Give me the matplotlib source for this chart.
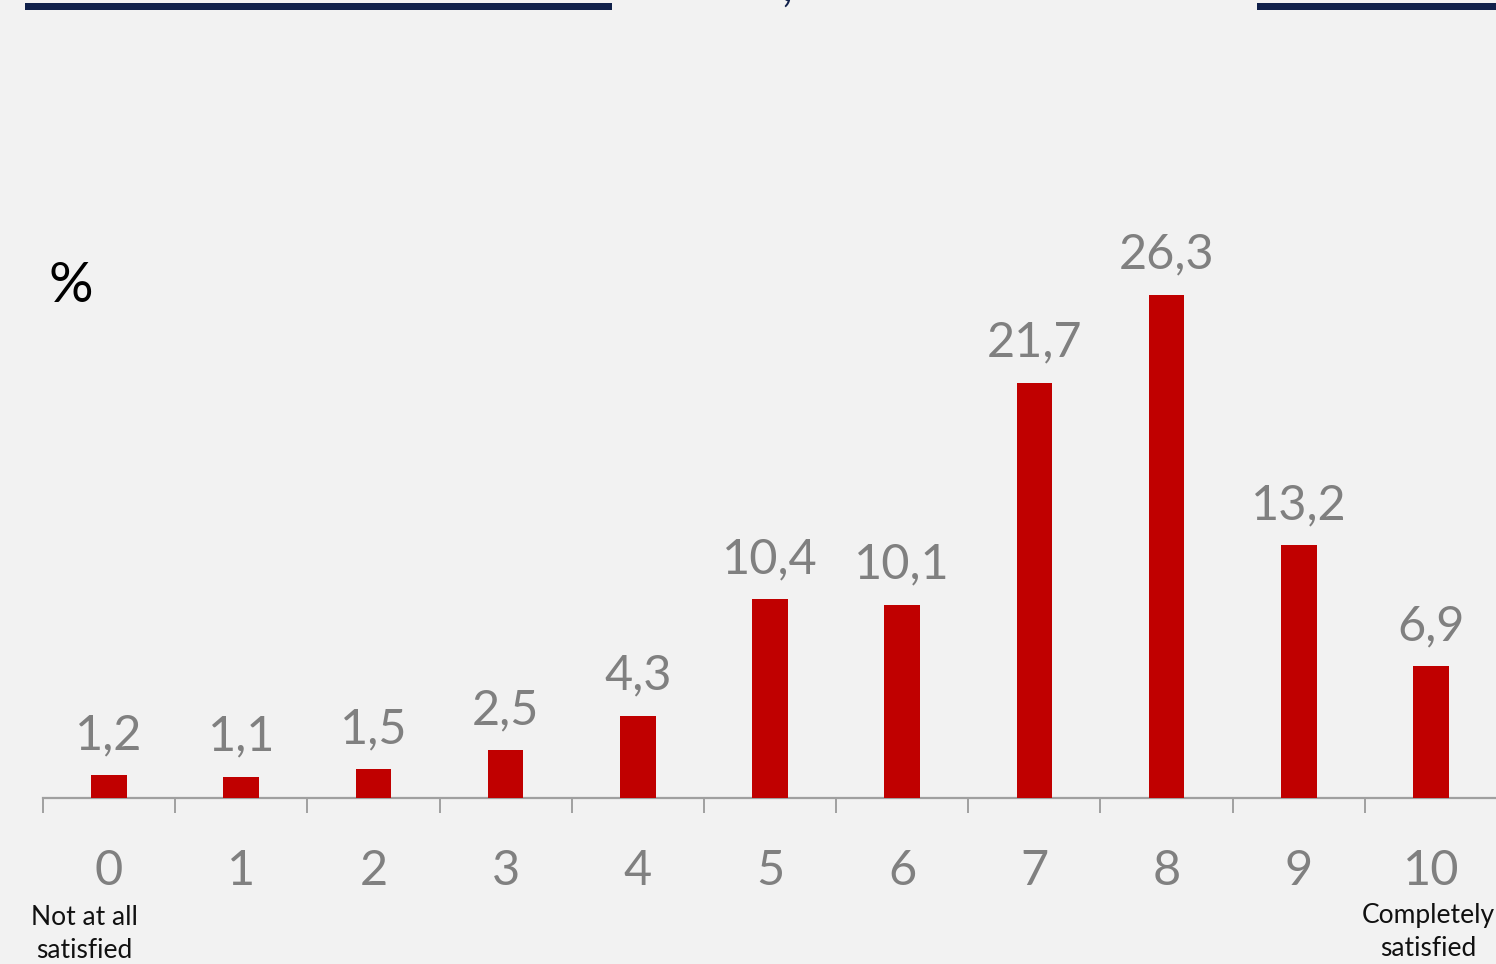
import numpy as np
import matplotlib
matplotlib.use("Agg")
import matplotlib.pyplot as plt
from matplotlib.patches import Rectangle

plt.rcParams['font.family'] = ['Lato', 'DejaVu Sans']

scores = ["0", "1", "2", "3", "4", "5", "6", "7", "8", "9", "10"]
shares = [1.2, 1.1, 1.5, 2.5, 4.3, 10.4, 10.1, 21.7, 26.3, 13.2, 6.9]
low_label = "Not at all\nsatisfied"
high_label = "Completely\nsatisfied"

bg = '#f2f2f2'
bar_col = '#c00000'
grey = '#808080'
navy = '#10204a'

W, H = 1496, 964
fig = plt.figure(figsize=(W / 100, H / 100), dpi=100, facecolor=bg)

# axes: x from 43px to 1497px, baseline at y=798px, 19.13 px per unit
left = 43 / W
bottom = (H - 798) / H
ymax = 30
height = ymax * 19.13 / H
ax = fig.add_axes([left, bottom, (1497 - 43) / W, height])
ax.set_facecolor(bg)

x = np.arange(len(scores))
ax.bar(x, shares, width=0.27, color=bar_col, zorder=3)

for xi, v in zip(x, shares):
    ax.annotate(f"{v:.1f}".replace('.', ','), (xi, v), xytext=(0, 13),
                textcoords='offset points', ha='center', va='bottom',
                fontsize=35, color=grey)

ax.set_xlim(-0.5, len(scores) - 0.5)
ax.set_ylim(0, ymax)

# ticks at category boundaries, labels at centres
ax.set_xticks(np.arange(-0.5, len(scores), 1.0))
ax.set_xticklabels([])
ax.set_xticks(x, minor=True)
ax.set_xticklabels(scores, minor=True, fontsize=35, color=grey)
ax.tick_params(axis='x', which='major', direction='out', length=11,
               width=1.4, color='#a0a0a0')
ax.tick_params(axis='x', which='minor', length=0, pad=37)
ax.set_yticks([])

for s in ['top', 'right', 'left']:
    ax.spines[s].set_visible(False)
ax.spines['bottom'].set_color('#a0a0a0')
ax.spines['bottom'].set_linewidth(1.6)

fig.text(48 / W, 1 - 287 / H, "%", fontsize=40, color='black',
         ha='left', va='center')
fig.text(84 / W, 1 - 934 / H, low_label, fontsize=19, color='#111111',
         ha='center', va='center', linespacing=1.42)
fig.text(1428 / W, 1 - 932 / H, high_label, fontsize=19, color='#111111',
         ha='center', va='center', linespacing=1.42)

# navy rules at the top edge (title block cut off above)
fig.add_artist(Rectangle((25 / W, 1 - 10 / H), (612 - 25) / W, 7 / H,
                         transform=fig.transFigure, color=navy, lw=0))
fig.add_artist(Rectangle((1257 / W, 1 - 10 / H), (W - 1257) / W, 7 / H,
                         transform=fig.transFigure, color=navy, lw=0))
fig.text(787 / W, 1 - 1 / H, ",", fontsize=34, color=navy,
         ha='center', va='baseline')

fig.savefig("out.png", dpi=100, facecolor=bg)
